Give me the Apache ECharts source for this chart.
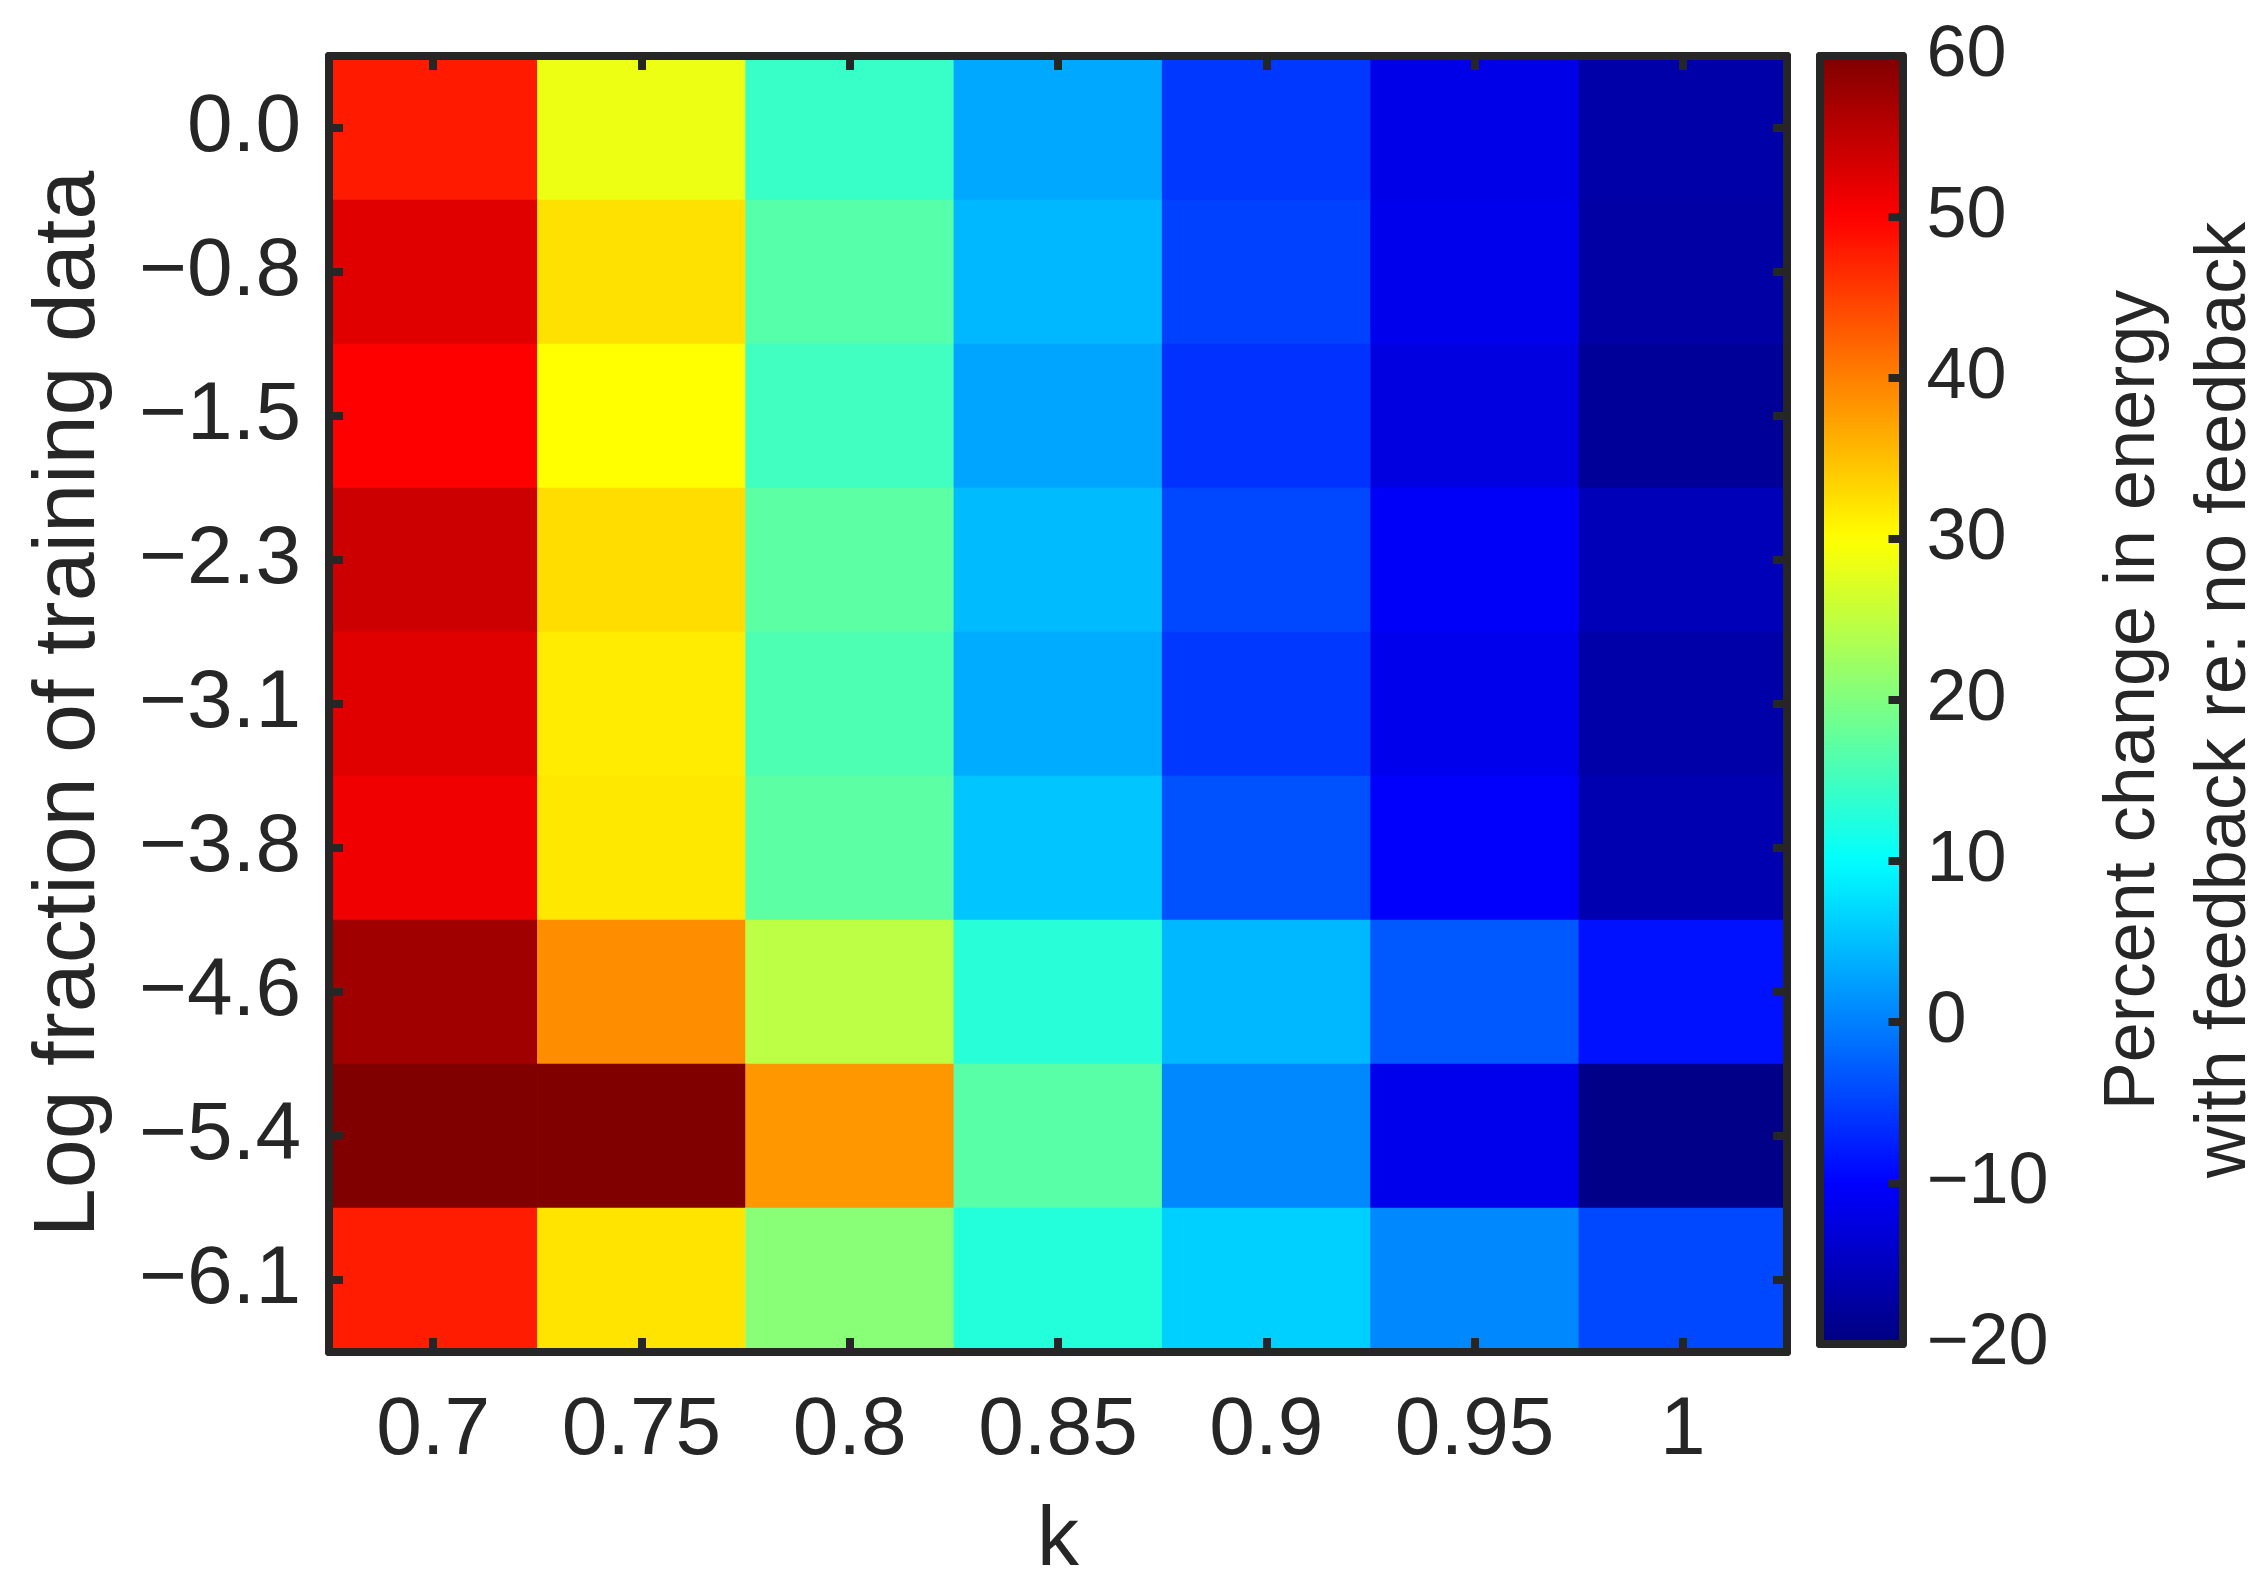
<!DOCTYPE html>
<html>
<head>
<meta charset="utf-8">
<script src="https://cdn.jsdelivr.net/npm/echarts@6/dist/echarts.min.js"></script>
<style>
html,body{margin:0;padding:0;background:#fff;}
#chart{width:2267px;height:1585px;}
</style>
</head>
<body>
<div id="chart"></div>
<script>
// ---- data ----
const xCategories = ['0.7', '0.75', '0.8', '0.85', '0.9', '0.95', '1'];
const yCategories = ['0.0', '\u22120.8', '\u22121.5', '\u22122.3', '\u22123.1', '\u22123.8', '\u22124.6', '\u22125.4', '\u22126.1'];
const row_0_0  = [48.0, 28.6, 14.4, 3.2, -5.6, -11.8, -16.8];
const row_m0_8 = [52.4, 32.4, 16.7, 4.4, -5.0, -11.5, -17.1];
const row_m1_5 = [50.0, 30.0, 15.0, 2.9, -6.2, -12.4, -18.1];
const row_m2_3 = [54.0, 32.7, 17.2, 4.7, -4.4, -10.5, -15.6];
const row_m3_1 = [52.4, 31.5, 16.0, 3.5, -5.6, -11.5, -16.8];
const row_m3_8 = [51.2, 31.8, 17.2, 5.4, -3.7, -10.2, -16.2];
const row_m4_6 = [57.5, 39.0, 24.7, 13.1, 4.4, -3.1, -8.7];
const row_m5_4 = [60.0, 60.0, 38.1, 16.9, 0.7, -11.5, -19.3];
const row_m6_1 = [47.8, 32.1, 20.7, 12.8, 6.3, 0.7, -4.4];
const rows = [row_0_0, row_m0_8, row_m1_5, row_m2_3, row_m3_1, row_m3_8, row_m4_6, row_m5_4, row_m6_1];
const colorMin = -20;
const colorMax = 60;
const colorInterval = 10;
const jetColors = ['#000080', '#0000FF', '#0080FF', '#00FFFF', '#80FF80', '#FFFF00', '#FF8000', '#FF0000', '#800000'];

const heatData = [];
rows.forEach((r, yi) => r.forEach((v, xi) => heatData.push([xi, yi, v])));

const ink = '#262626';
const font = 'Liberation Sans, Arial, sans-serif';
const minusFmt = v => (v < 0 ? '\u2212' + Math.abs(v) : String(v));

const chart = echarts.init(document.getElementById('chart'), null, {renderer: 'canvas'});
const lineStyle = {color: ink, width: 8};
chart.setOption({
  animation: false,
  backgroundColor: '#ffffff',
  grid: [
    {left: 329, top: 56, width: 1458, height: 1296, containLabel: false, outerBoundsMode: 'none'},
    {left: 1820, top: 56, width: 82.5, height: 1288, containLabel: false, outerBoundsMode: 'none'}
  ],
  xAxis: [
    {
      type: 'category', gridIndex: 0, data: xCategories, position: 'bottom', z: 10,
      axisLine: {show: true, lineStyle}, 
      axisTick: {show: true, inside: true, alignWithLabel: true, length: 14, lineStyle},
      axisLabel: {fontSize: 82, color: ink, fontFamily: font, margin: 38},
      splitLine: {show: false},
      name: 'k', nameLocation: 'middle', nameGap: 148,
      nameTextStyle: {fontSize: 84, color: ink, fontFamily: font}
    },
    {
      type: 'category', gridIndex: 0, data: xCategories, position: 'top', z: 10,
      axisLine: {show: true, lineStyle},
      axisTick: {show: true, inside: true, alignWithLabel: true, length: 14, lineStyle},
      axisLabel: {show: false}, splitLine: {show: false}
    },
    {
      type: 'value', gridIndex: 1, min: 0, max: 1, position: 'bottom', z: 10,
      axisLine: {show: true, onZero: false, lineStyle}, axisTick: {show: false},
      axisLabel: {show: false}, splitLine: {show: false}
    },
    {
      type: 'value', gridIndex: 1, min: 0, max: 1, position: 'top', z: 10,
      axisLine: {show: true, onZero: false, lineStyle}, axisTick: {show: false},
      axisLabel: {show: false}, splitLine: {show: false}
    }
  ],
  yAxis: [
    {
      type: 'category', gridIndex: 0, data: yCategories, inverse: true, position: 'left', z: 10,
      axisLine: {show: true, lineStyle},
      axisTick: {show: true, inside: true, alignWithLabel: true, length: 14, lineStyle},
      axisLabel: {fontSize: 82, color: ink, fontFamily: font, margin: 28},
      splitLine: {show: false},
      name: 'Log fraction of training data', nameLocation: 'middle', nameGap: 215, nameRotate: 90,
      nameTextStyle: {fontSize: 88, color: ink, fontFamily: font}
    },
    {
      type: 'category', gridIndex: 0, data: yCategories, inverse: true, position: 'right', z: 10,
      axisLine: {show: true, lineStyle},
      axisTick: {show: true, inside: true, alignWithLabel: true, length: 14, lineStyle},
      axisLabel: {show: false}, splitLine: {show: false}
    },
    {
      type: 'value', gridIndex: 1, min: 0, max: 1, position: 'left', z: 10,
      axisLine: {show: true, onZero: false, lineStyle}, axisTick: {show: false},
      axisLabel: {show: false}, splitLine: {show: false}
    },
    {
      type: 'value', gridIndex: 1, min: colorMin, max: colorMax, interval: colorInterval, position: 'right', z: 10,
      axisLine: {show: true, onZero: false, lineStyle},
      axisTick: {show: true, inside: true, length: 14, lineStyle},
      axisLabel: {fontSize: 72, color: ink, fontFamily: font, margin: 24, formatter: minusFmt},
      splitLine: {show: false},
      name: 'Percent change in energy\nwith feedback re: no feedback', nameLocation: 'middle', nameGap: 186, nameRotate: 90,
      nameTextStyle: {fontSize: 72, lineHeight: 91, color: ink, fontFamily: font, align: 'center'}
    }
  ],
  visualMap: {
    type: 'continuous', min: colorMin, max: colorMax, seriesIndex: 0,
    calculable: false, orient: 'vertical', left: 1820, top: 56, padding: 0,
    itemWidth: 82, itemHeight: 1288, text: null, showLabel: false,
    inRange: {color: jetColors}, z: 4
  },
  series: [{
    type: 'heatmap', xAxisIndex: 0, yAxisIndex: 0, data: heatData,
    silent: true, progressive: 0,
    itemStyle: {borderWidth: 0},
    emphasis: {disabled: true}
  }]
});
</script>
</body>
</html>
